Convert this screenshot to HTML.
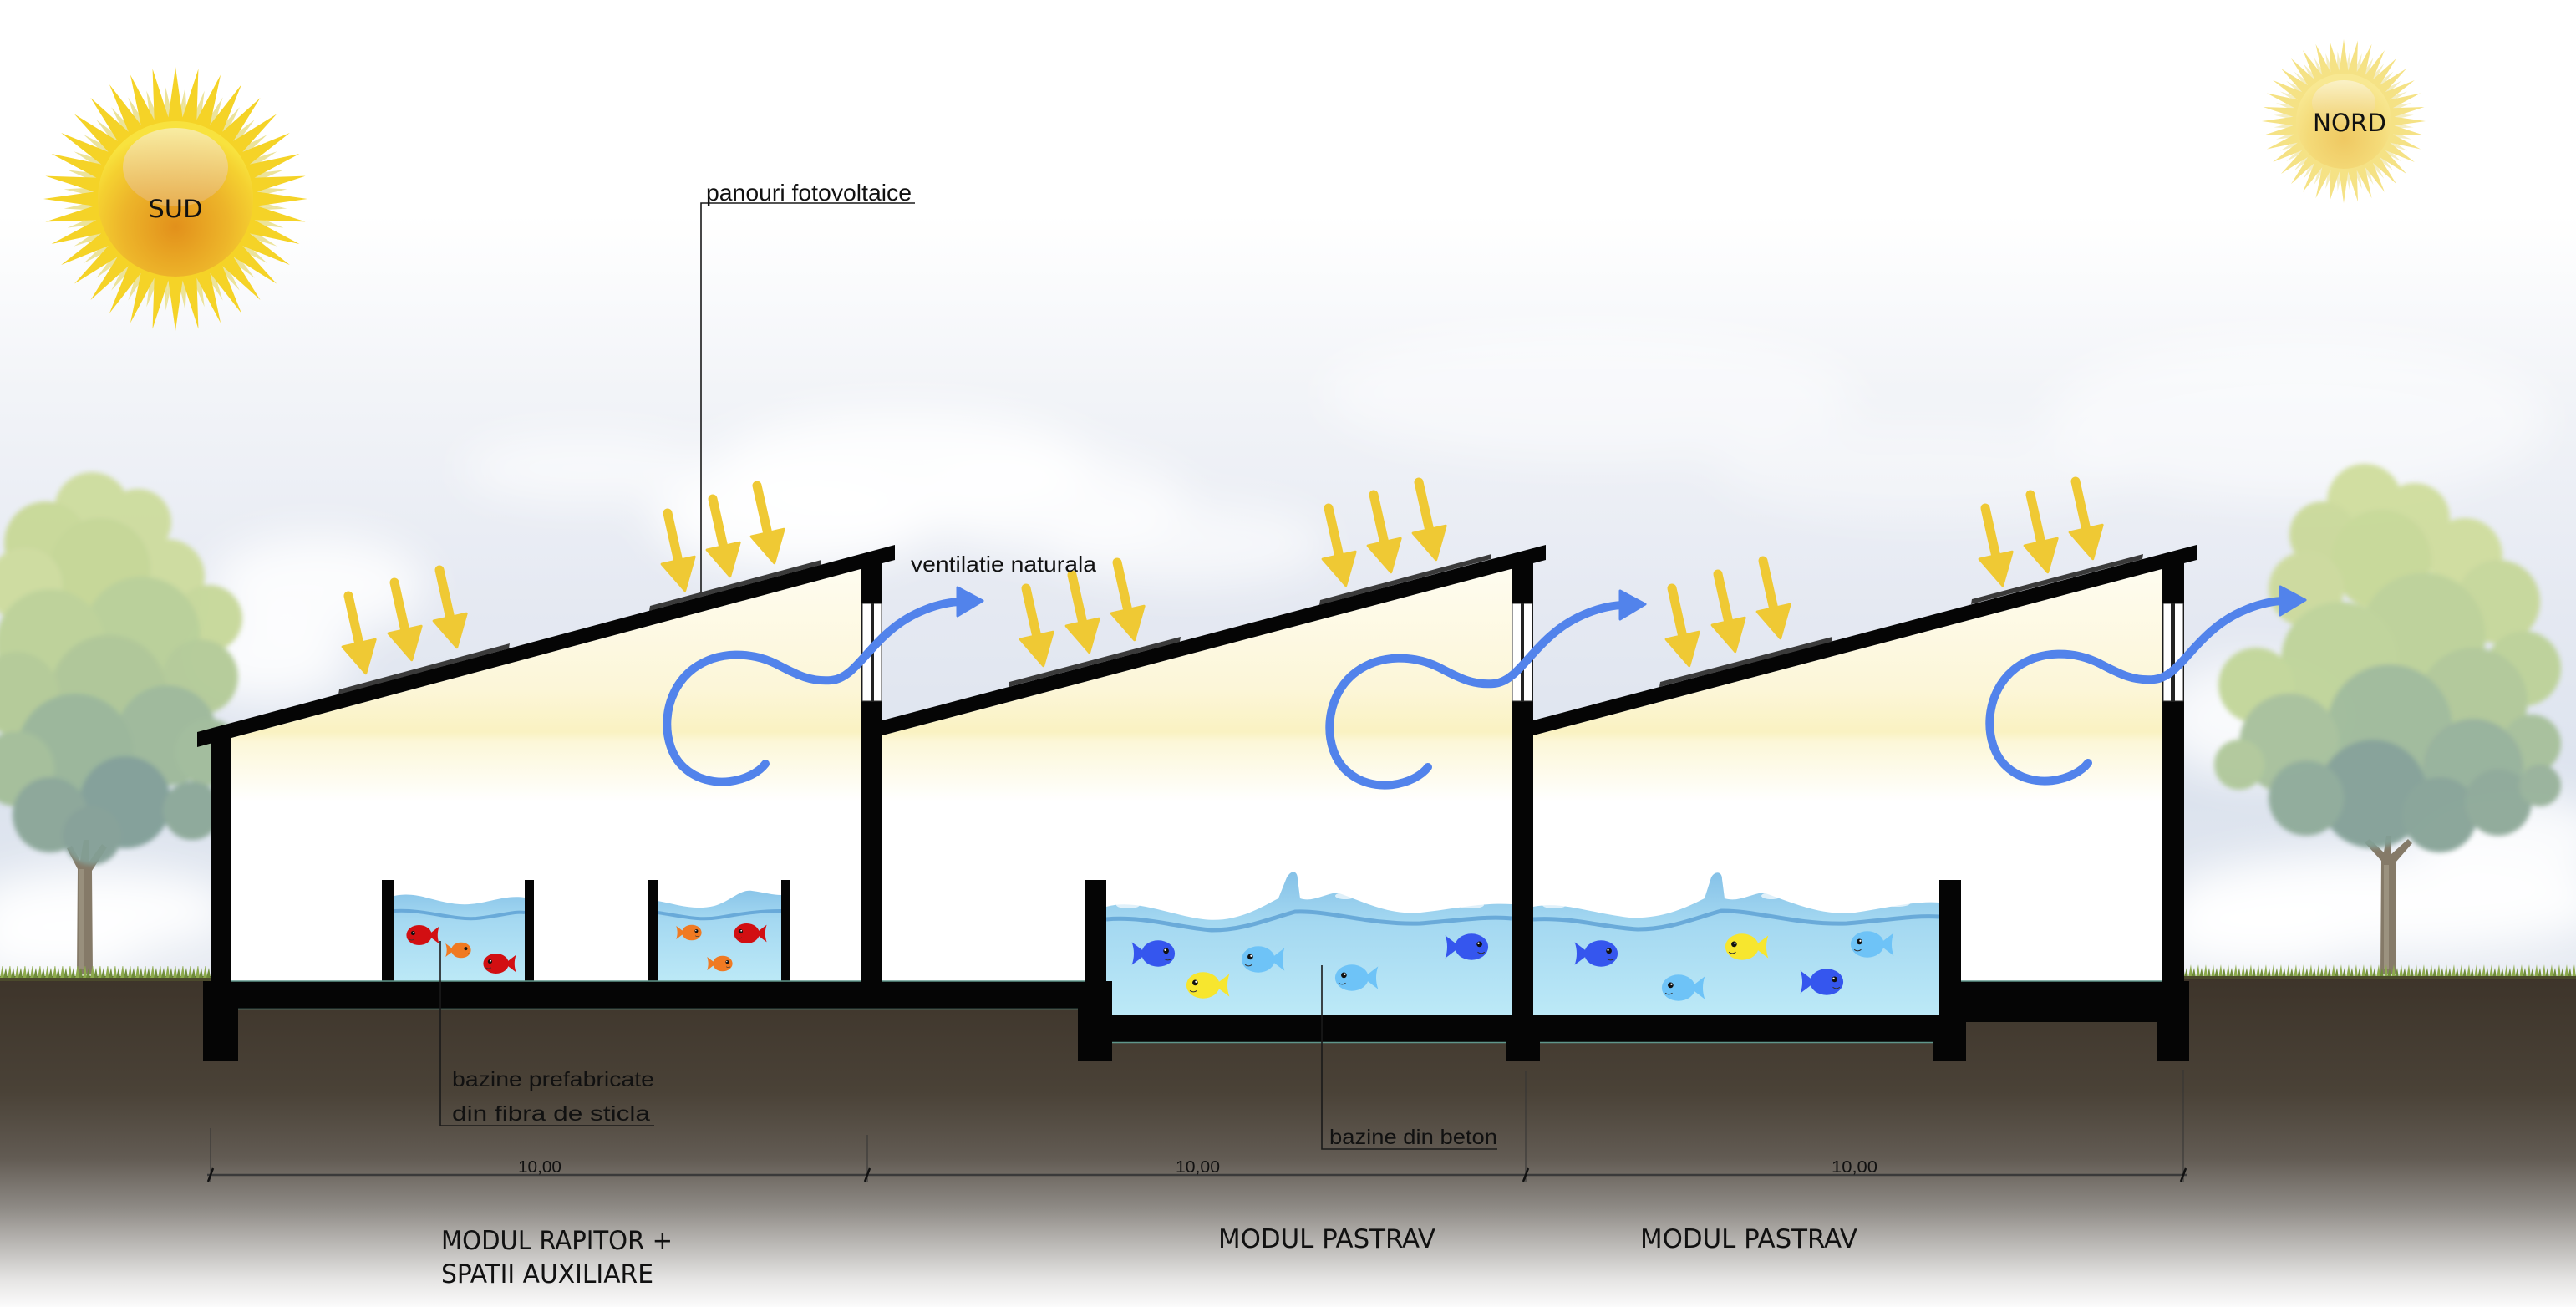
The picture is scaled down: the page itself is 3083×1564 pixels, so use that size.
<!DOCTYPE html>
<html>
<head>
<meta charset="utf-8">
<style>
html,body{margin:0;padding:0;background:#fff;overflow:hidden;}
svg{display:block;}
.lbl{font-family:"Liberation Sans","DejaVu Sans",sans-serif;fill:#111;}
.cap{font-family:"DejaVu Sans Condensed","Liberation Sans",sans-serif;fill:#111;}
</style>
</head>
<body>
<svg xmlns="http://www.w3.org/2000/svg" xmlns:xlink="http://www.w3.org/1999/xlink" width="3083" height="1564" viewBox="0 0 3083 1564">
<defs>
  <linearGradient id="sky" x1="0" y1="0" x2="0" y2="1170" gradientUnits="userSpaceOnUse">
    <stop offset="0" stop-color="#ffffff"/>
    <stop offset="0.22" stop-color="#ffffff"/>
    <stop offset="0.4" stop-color="#f2f4f8"/>
    <stop offset="0.62" stop-color="#e5e9f2"/>
    <stop offset="0.82" stop-color="#dce3ee"/>
    <stop offset="1" stop-color="#e8ecf3"/>
  </linearGradient>
  <linearGradient id="soil" x1="0" y1="1168" x2="0" y2="1564" gradientUnits="userSpaceOnUse">
    <stop offset="0" stop-color="#3d342a"/>
    <stop offset="0.35" stop-color="#4a4237"/>
    <stop offset="0.55" stop-color="#625b53"/>
    <stop offset="0.7" stop-color="#8e8a85"/>
    <stop offset="0.82" stop-color="#bebcb9"/>
    <stop offset="0.92" stop-color="#e6e5e4"/>
    <stop offset="1" stop-color="#fbfbfb"/>
  </linearGradient>
  <linearGradient id="glow" x1="0" y1="660" x2="0" y2="960" gradientUnits="userSpaceOnUse">
    <stop offset="0" stop-color="#fffdf3"/>
    <stop offset="0.55" stop-color="#fcf6d8"/>
    <stop offset="0.72" stop-color="#faf2c2"/>
    <stop offset="0.76" stop-color="#fcf7d8"/>
    <stop offset="1" stop-color="#ffffff"/>
  </linearGradient>
  <linearGradient id="water" x1="0" y1="1045" x2="0" y2="1214" gradientUnits="userSpaceOnUse">
    <stop offset="0" stop-color="#86c2e8"/>
    <stop offset="0.35" stop-color="#a4d8f1"/>
    <stop offset="1" stop-color="#bce9f7"/>
  </linearGradient>
  <linearGradient id="twater" x1="0" y1="1060" x2="0" y2="1175" gradientUnits="userSpaceOnUse">
    <stop offset="0" stop-color="#86c2e8"/>
    <stop offset="0.35" stop-color="#a4d8f1"/>
    <stop offset="1" stop-color="#bce9f7"/>
  </linearGradient>
  <radialGradient id="sunG" cx="0.5" cy="0.68" r="0.62">
    <stop offset="0" stop-color="#e2901b"/>
    <stop offset="0.55" stop-color="#edb52a"/>
    <stop offset="0.85" stop-color="#f5d131"/>
    <stop offset="1" stop-color="#f8e23e"/>
  </radialGradient>
  <linearGradient id="sunH" x1="0" y1="0" x2="0" y2="1">
    <stop offset="0" stop-color="#f8eeb4"/>
    <stop offset="1" stop-color="#e8b25a"/>
  </linearGradient>
  <radialGradient id="sunN" cx="0.5" cy="0.68" r="0.62">
    <stop offset="0" stop-color="#efc862"/>
    <stop offset="0.6" stop-color="#f4da78"/>
    <stop offset="1" stop-color="#f8e892"/>
  </radialGradient>
  <linearGradient id="sunNH" x1="0" y1="0" x2="0" y2="1">
    <stop offset="0" stop-color="#fbf4d4"/>
    <stop offset="1" stop-color="#f0d070"/>
  </linearGradient>
  <filter id="cloud" x="-50%" y="-50%" width="200%" height="200%"><feGaussianBlur stdDeviation="26"/></filter>
  <filter id="soft" x="-10%" y="-10%" width="120%" height="120%"><feGaussianBlur stdDeviation="3"/></filter>
  <pattern id="grass" x="0" y="0" width="9" height="18" patternUnits="userSpaceOnUse">
    <rect width="9" height="18" fill="none"/>
    <polygon points="0,18 3,2 5,18" fill="#8daa4c"/>
    <polygon points="4,18 7,6 9,18" fill="#6f8c3a"/>
  </pattern>
  <path id="q" d="M0,0 L1,0 L.6176,.0541 L.9848,.1736 L.5989,.1605 L.9397,.342 L.5619,.262 L.866,.5 L.5079,.3556 L.766,.6428 L.4384,.4384 L.6428,.766 L.3556,.5079 L.5,.866 L.262,.5619 L.342,.9397 L.1605,.5989 L.1736,.9848 L.0541,.6176 L0,1 Z"/>
  <g id="star">
    <use href="#q"/>
    <use href="#q" transform="rotate(90)"/>
    <use href="#q" transform="rotate(180)"/>
    <use href="#q" transform="rotate(270)"/>
  </g>
  <g id="fishBody"><ellipse cx="-3" cy="0" rx="19" ry="15"/><path d="M10,0 L27,-13 C24,-4 24,4 27,13 Z"/></g>
  <g id="fishFace"><circle cx="-12" cy="-3" r="3.2" fill="#111"/><circle cx="-11" cy="-4" r="1.1" fill="#fff"/><path d="M-18,6 q4,3 8,0" stroke="#333" stroke-width="1" fill="none"/></g>
  <g id="ya">
    <line x1="0" y1="0" x2="0" y2="62" stroke="#efc934" stroke-width="11" stroke-linecap="round"/>
    <path d="M-20,58 L20,58 L0,95 Z" fill="#efc934" stroke="#efc934" stroke-width="3" stroke-linejoin="round"/>
  </g>
  <g id="circ">
    <path d="M916,914 C900,935 850,948 818,918 C790,892 790,830 830,800 C860,778 900,780 930,795 C955,808 970,816 995,814 C1020,812 1035,780 1065,755 C1090,733 1125,720 1152,720" fill="none" stroke="#5283eb" stroke-width="10" stroke-linecap="round"/>
    <polygon points="1146,703 1176,719 1146,737" fill="#5283eb" stroke="#5283eb" stroke-width="3" stroke-linejoin="round"/>
  </g>
</defs>

<!-- SKY -->
<rect x="0" y="0" width="3083" height="1175" fill="url(#sky)"/>
<g filter="url(#cloud)" fill="#ffffff">
  <ellipse cx="1080" cy="560" rx="230" ry="70" opacity="0.85"/>
  <ellipse cx="950" cy="620" rx="170" ry="60" opacity="0.9"/>
  <ellipse cx="1260" cy="600" rx="160" ry="60" opacity="0.7"/>
  <ellipse cx="700" cy="560" rx="150" ry="40" opacity="0.6"/>
  <ellipse cx="380" cy="700" rx="130" ry="60" opacity="0.85"/>
  <ellipse cx="320" cy="790" rx="100" ry="50" opacity="0.85"/>
  <ellipse cx="1420" cy="650" rx="170" ry="50" opacity="0.6"/>
  <ellipse cx="2860" cy="1080" rx="270" ry="60" opacity="0.95"/>
  <ellipse cx="2700" cy="1120" rx="130" ry="40" opacity="0.95"/>
  <ellipse cx="3010" cy="1000" rx="120" ry="50" opacity="0.85"/>
  <ellipse cx="120" cy="1090" rx="160" ry="50" opacity="0.95"/>
  <ellipse cx="60" cy="1140" rx="110" ry="30" opacity="0.95"/>
  <ellipse cx="2750" cy="500" rx="300" ry="100" opacity="0.5"/>
  <ellipse cx="1900" cy="470" rx="320" ry="80" opacity="0.45"/>
  <ellipse cx="2300" cy="560" rx="250" ry="60" opacity="0.35"/>
  <ellipse cx="2700" cy="860" rx="120" ry="70" opacity="0.8"/>
</g>

<!-- SUD sun -->
<g transform="translate(210,238)">
  <use href="#star" transform="rotate(5) scale(134)" fill="#ece39a"/>
  <use href="#star" transform="scale(158)" fill="#f5d327"/>
  <circle r="93" fill="url(#sunG)"/>
  <ellipse cx="0" cy="-38" rx="63" ry="47" fill="url(#sunH)" opacity="0.85"/>
  <text x="0" y="22" text-anchor="middle" class="cap" font-size="29" textLength="65" lengthAdjust="spacingAndGlyphs">SUD</text>
</g>

<!-- NORD sun -->
<g transform="translate(2805,145)">
  <use href="#star" transform="rotate(5) scale(84)" fill="#f4edc0"/>
  <use href="#star" transform="scale(98)" fill="#f5e285"/>
  <circle r="57" fill="url(#sunN)"/>
  <ellipse cx="0" cy="-22" rx="38" ry="27" fill="url(#sunNH)" opacity="0.8"/>
  <text x="7" y="12" text-anchor="middle" class="cap" font-size="29" textLength="88" lengthAdjust="spacingAndGlyphs">NORD</text>
</g>

<!-- TREES -->
<g>
  <path d="M92,1165 L93,1040 L80,1015 L86,1012 L96,1030 L100,1005 L106,1005 L106,1032 L122,1010 L128,1014 L110,1042 L111,1165 Z" fill="#857a68"/>
  <rect x="95" y="1040" width="6" height="120" fill="#a59c8a" opacity="0.6"/>
  <g filter="url(#soft)" opacity="0.95">
    <circle cx="110" cy="610" r="45" fill="#cddc9c"/>
    <circle cx="165" cy="625" r="40" fill="#cddc9c"/>
    <circle cx="55" cy="650" r="50" fill="#c8d896"/>
    <circle cx="200" cy="690" r="45" fill="#cddc9c"/>
    <circle cx="120" cy="680" r="60" fill="#c4d694"/>
    <circle cx="30" cy="700" r="45" fill="#cddc9c"/>
    <circle cx="250" cy="740" r="40" fill="#c6d798"/>
    <circle cx="170" cy="760" r="70" fill="#b8cf96"/>
    <circle cx="60" cy="770" r="65" fill="#bcd196"/>
    <circle cx="240" cy="810" r="45" fill="#b3ca96"/>
    <circle cx="130" cy="830" r="70" fill="#adc695"/>
    <circle cx="20" cy="830" r="50" fill="#b3ca95"/>
    <circle cx="200" cy="880" r="60" fill="#9cb898"/>
    <circle cx="90" cy="900" r="70" fill="#98b597"/>
    <circle cx="250" cy="900" r="40" fill="#a0bb99"/>
    <circle cx="20" cy="920" r="45" fill="#a3bd97"/>
    <circle cx="150" cy="960" r="55" fill="#809e96"/>
    <circle cx="60" cy="975" r="45" fill="#89a596"/>
    <circle cx="230" cy="970" r="35" fill="#8ba797"/>
    <circle cx="110" cy="1000" r="35" fill="#839f95"/>
  </g>
</g>
<g>
  <path d="M2849,1165 L2850,1030 L2830,1008 L2836,1004 L2853,1020 L2856,1000 L2862,1000 L2862,1022 L2882,1004 L2887,1009 L2867,1032 L2868,1165 Z" fill="#857a68"/>
  <rect x="2853" y="1035" width="6" height="125" fill="#aaa290" opacity="0.6"/>
  <g filter="url(#soft)" opacity="0.95">
    <circle cx="2830" cy="600" r="45" fill="#cfdd9c"/>
    <circle cx="2890" cy="620" r="42" fill="#cfdd9c"/>
    <circle cx="2780" cy="640" r="40" fill="#cad999"/>
    <circle cx="2950" cy="665" r="45" fill="#cfdd9c"/>
    <circle cx="2850" cy="670" r="60" fill="#c7d896"/>
    <circle cx="2760" cy="705" r="45" fill="#ccda9b"/>
    <circle cx="2990" cy="720" r="50" fill="#c6d799"/>
    <circle cx="2900" cy="760" r="75" fill="#bcd197"/>
    <circle cx="2800" cy="790" r="70" fill="#bed398"/>
    <circle cx="2700" cy="820" r="45" fill="#c1d598"/>
    <circle cx="3020" cy="800" r="45" fill="#bcd197"/>
    <circle cx="2960" cy="840" r="65" fill="#b0c897"/>
    <circle cx="2860" cy="870" r="75" fill="#9fba99"/>
    <circle cx="2740" cy="890" r="60" fill="#a6bf9a"/>
    <circle cx="2680" cy="915" r="30" fill="#afc799"/>
    <circle cx="3030" cy="890" r="35" fill="#a6bf99"/>
    <circle cx="2960" cy="920" r="60" fill="#95b199"/>
    <circle cx="2840" cy="950" r="65" fill="#83a096"/>
    <circle cx="2760" cy="955" r="45" fill="#8eaa98"/>
    <circle cx="2920" cy="975" r="45" fill="#86a396"/>
    <circle cx="2990" cy="960" r="40" fill="#8da897"/>
    <circle cx="3040" cy="940" r="25" fill="#97b199"/>
  </g>
</g>

<!-- SOIL + GRASS -->
<rect x="0" y="1168" width="3083" height="396" fill="url(#soil)"/>
<rect x="0" y="1156" width="252" height="18" fill="url(#grass)"/>
<rect x="2614" y="1152" width="469" height="20" fill="url(#grass)"/>
<rect x="0" y="1170" width="252" height="4" fill="#4b4a2c"/>
<rect x="2614" y="1168" width="469" height="4" fill="#4b4a2c"/>

<!-- INTERIORS -->
<polygon points="277,883 1031,680.7 1031,1175 277,1175" fill="#ffffff"/>
<polygon points="277,883 1031,680.7 1031,1175 277,1175" fill="url(#glow)"/>
<polygon points="1056,880 1809,680.8 1809,1214 1324,1214 1324,1175 1056,1175" fill="#ffffff"/>
<polygon points="1056,880 1809,680.8 1809,1214 1324,1214 1324,1175 1056,1175" fill="url(#glow)"/>
<polygon points="1835,880 2588,680.8 2588,1175 2347,1175 2347,1214 1835,1214" fill="#ffffff"/>
<polygon points="1835,880 2588,680.8 2588,1175 2347,1175 2347,1214 1835,1214" fill="url(#glow)"/>

<!-- WATER: basins -->
<path d="M1324,1085 C1360,1075 1400,1095 1440,1100 C1480,1105 1510,1085 1530,1075 L1540,1050 C1545,1041 1553,1041 1553,1052 L1556,1075 C1570,1080 1585,1070 1600,1068 C1630,1078 1660,1095 1700,1092 C1740,1088 1770,1080 1809,1082 L1809,1214 L1324,1214 Z" fill="url(#water)"/>
<path d="M1324,1100 C1370,1096 1410,1110 1450,1113 C1490,1113 1520,1099 1550,1091 C1590,1089 1640,1107 1700,1105 C1750,1101 1780,1096 1809,1099" fill="none" stroke="#5b9fd3" stroke-width="5" opacity="0.8"/>
<path d="M1835,1085 C1870,1078 1900,1092 1950,1098 C1990,1100 2020,1085 2040,1075 L2048,1050 C2052,1042 2061,1042 2061,1052 L2064,1075 C2080,1080 2095,1070 2110,1068 C2140,1078 2180,1097 2220,1092 C2260,1086 2290,1078 2321,1080 L2321,1214 L1835,1214 Z" fill="url(#water)"/>
<path d="M1835,1100 C1880,1097 1920,1110 1960,1112 C2000,1112 2030,1098 2060,1090 C2100,1089 2150,1107 2210,1105 C2260,1101 2290,1095 2321,1097" fill="none" stroke="#5b9fd3" stroke-width="5" opacity="0.8"/>
<g fill="#ffffff" opacity="0.7">
  <ellipse cx="1350" cy="1083" rx="14" ry="4"/><ellipse cx="1610" cy="1072" rx="12" ry="4"/><ellipse cx="1760" cy="1083" rx="16" ry="4"/>
  <ellipse cx="1860" cy="1083" rx="14" ry="4"/><ellipse cx="2120" cy="1072" rx="12" ry="4"/><ellipse cx="2270" cy="1081" rx="16" ry="4"/>
</g>

<!-- WATER: tanks -->
<path d="M472,1072 C500,1066 520,1080 550,1082 C580,1084 600,1070 628,1074 L628,1175 L472,1175 Z" fill="url(#twater)"/>
<path d="M472,1090 C510,1088 540,1101 570,1099 C600,1096 615,1090 628,1092" fill="none" stroke="#5b9fd3" stroke-width="4" opacity="0.8"/>
<path d="M787,1078 C810,1082 830,1090 855,1084 C875,1078 885,1064 900,1066 C915,1068 925,1071 935,1071 L935,1175 L787,1175 Z" fill="url(#twater)"/>
<path d="M787,1092 C815,1096 835,1102 860,1098 C885,1094 905,1090 935,1090" fill="none" stroke="#5b9fd3" stroke-width="4" opacity="0.8"/>

<!-- FISH -->
<g transform="translate(504,1119) scale(0.8)" fill="#d20f12"><use href="#fishBody"/><use href="#fishFace"/></g>
<g transform="translate(550,1137) scale(-0.62,0.62)" fill="#f07a22"><use href="#fishBody"/><use href="#fishFace"/></g>
<g transform="translate(596,1153) scale(0.8)" fill="#d20f12"><use href="#fishBody"/><use href="#fishFace"/></g>
<g transform="translate(826,1116) scale(-0.62,0.62)" fill="#f07a22"><use href="#fishBody"/><use href="#fishFace"/></g>
<g transform="translate(896,1117) scale(0.8)" fill="#d20f12"><use href="#fishBody"/><use href="#fishFace"/></g>
<g transform="translate(863,1153) scale(-0.62,0.62)" fill="#f07a22"><use href="#fishBody"/><use href="#fishFace"/></g>

<g transform="translate(1383,1141) scale(-1.05,1.05)" fill="#3556ee"><use href="#fishBody"/><use href="#fishFace"/></g>
<g transform="translate(1509,1148) scale(1.05)" fill="#6ec3f7"><use href="#fishBody"/><use href="#fishFace"/></g>
<g transform="translate(1443,1179) scale(1.05)" fill="#f7e62e"><use href="#fishBody"/><use href="#fishFace"/></g>
<g transform="translate(1621,1170) scale(1.05)" fill="#6ec3f7"><use href="#fishBody"/><use href="#fishFace"/></g>
<g transform="translate(1758,1133) scale(-1.05,1.05)" fill="#3556ee"><use href="#fishBody"/><use href="#fishFace"/></g>

<g transform="translate(1913,1141) scale(-1.05,1.05)" fill="#3556ee"><use href="#fishBody"/><use href="#fishFace"/></g>
<g transform="translate(2088,1133) scale(1.05)" fill="#f7e62e"><use href="#fishBody"/><use href="#fishFace"/></g>
<g transform="translate(2238,1130) scale(1.05)" fill="#6ec3f7"><use href="#fishBody"/><use href="#fishFace"/></g>
<g transform="translate(2012,1182) scale(1.05)" fill="#6ec3f7"><use href="#fishBody"/><use href="#fishFace"/></g>
<g transform="translate(2183,1175) scale(-1.05,1.05)" fill="#3556ee"><use href="#fishBody"/><use href="#fishFace"/></g>

<!-- STRUCTURE (black) -->
<g fill="#050505">
  <polygon points="236,876 1071,652 1071,670 236,894"/>
  <polygon points="1056,862 1850,652 1850,670 1056,880"/>
  <polygon points="1835,862 2629,652 2629,670 1835,880"/>
  <rect x="252" y="880" width="25" height="295"/>
  <rect x="1031" y="665" width="25" height="510"/>
  <rect x="1809" y="665" width="26" height="549"/>
  <rect x="2588" y="665" width="26" height="558"/>
  <rect x="252" y="1174" width="1046" height="33"/>
  <rect x="243" y="1174" width="42" height="96"/>
  <rect x="1298" y="1053" width="26" height="161"/>
  <rect x="1290" y="1174" width="41" height="96"/>
  <rect x="1298" y="1214" width="1049" height="33"/>
  <rect x="1802" y="1214" width="41" height="56"/>
  <rect x="2321" y="1053" width="26" height="161"/>
  <rect x="2313" y="1214" width="40" height="56"/>
  <rect x="2347" y="1174" width="267" height="49"/>
  <rect x="2582" y="1174" width="38" height="96"/>
  <rect x="457" y="1053" width="15" height="122"/>
  <rect x="628" y="1053" width="11" height="122"/>
  <rect x="776" y="1053" width="11" height="122"/>
  <rect x="935" y="1053" width="10" height="122"/>
</g>
<g stroke="#5f958a" stroke-width="1.5">
  <line x1="277" y1="1174" x2="1031" y2="1174"/>
  <line x1="1056" y1="1174" x2="1298" y2="1174"/>
  <line x1="2347" y1="1174" x2="2588" y2="1174"/>
  <line x1="285" y1="1207.5" x2="1290" y2="1207.5"/>
  <line x1="1331" y1="1247.5" x2="1802" y2="1247.5"/>
  <line x1="1843" y1="1247.5" x2="2313" y2="1247.5"/>
</g>

<!-- solar panels -->
<g fill="#3a3a3a">
  <polygon points="405,831 609,776 610,770 406,825"/>
  <polygon points="777,731 982,676 983,670 778,725"/>
  <polygon points="1207,822 1412,768 1413,762 1208,816"/>
  <polygon points="1579,724 1784,669 1785,663 1580,718"/>
  <polygon points="1986,822 2192,768 2193,762 1987,816"/>
  <polygon points="2359,723 2564,669 2565,663 2360,717"/>
</g>

<!-- windows -->
<g>
  <rect x="1032" y="722" width="23" height="117" fill="#ffffff" stroke="#333" stroke-width="1"/>
  <rect x="1042" y="722" width="4" height="117" fill="#222"/>
  <rect x="1810" y="722" width="24" height="117" fill="#ffffff" stroke="#333" stroke-width="1"/>
  <rect x="1820" y="722" width="4" height="117" fill="#222"/>
  <rect x="2589" y="722" width="24" height="117" fill="#ffffff" stroke="#333" stroke-width="1"/>
  <rect x="2598" y="722" width="5" height="117" fill="#222"/>
</g>

<!-- yellow sun arrows -->
<g>
  <use href="#ya" transform="translate(417,713) rotate(-12.6)"/>
  <use href="#ya" transform="translate(472,697) rotate(-12.6)"/>
  <use href="#ya" transform="translate(526,682) rotate(-12.6)"/>
  <use href="#ya" transform="translate(799,614) rotate(-12.6)"/>
  <use href="#ya" transform="translate(853,597) rotate(-12.6)"/>
  <use href="#ya" transform="translate(906,581) rotate(-12.6)"/>
  <use href="#ya" transform="translate(1228,704) rotate(-12.6)"/>
  <use href="#ya" transform="translate(1283,688) rotate(-12.6)"/>
  <use href="#ya" transform="translate(1337,673) rotate(-12.6)"/>
  <use href="#ya" transform="translate(1590,608) rotate(-12.6)"/>
  <use href="#ya" transform="translate(1644,592) rotate(-12.6)"/>
  <use href="#ya" transform="translate(1698,577) rotate(-12.6)"/>
  <use href="#ya" transform="translate(2001,704) rotate(-12.6)"/>
  <use href="#ya" transform="translate(2056,687) rotate(-12.6)"/>
  <use href="#ya" transform="translate(2110,671) rotate(-12.6)"/>
  <use href="#ya" transform="translate(2376,608) rotate(-12.6)"/>
  <use href="#ya" transform="translate(2430,592) rotate(-12.6)"/>
  <use href="#ya" transform="translate(2484,576) rotate(-12.6)"/>
</g>

<!-- blue ventilation curves -->
<use href="#circ"/>
<use href="#circ" transform="translate(793,4)"/>
<use href="#circ" transform="translate(1583,-1)"/>

<!-- LEADER LINES -->
<g stroke="#1a1a1a" stroke-width="1.6" fill="none">
  <polyline points="839,708 839,243 1095,243"/>
  <polyline points="527,1126 527,1347 783,1347"/>
  <polyline points="1582,1155 1582,1375 1792,1375"/>
</g>

<!-- DIMENSION LINE -->
<g stroke="#333" fill="none">
  <line x1="248" y1="1406" x2="2617" y2="1406" stroke-width="2.5" stroke="#3a3a3a"/>
  <line x1="252" y1="1350" x2="252" y2="1414" stroke-width="1"/>
  <line x1="1038" y1="1358" x2="1038" y2="1414" stroke-width="1"/>
  <line x1="1826" y1="1282" x2="1826" y2="1414" stroke-width="1"/>
  <line x1="2613" y1="1280" x2="2613" y2="1414" stroke-width="1"/>
  <g stroke-width="2.5" stroke="#111">
    <line x1="249" y1="1414" x2="255" y2="1398"/>
    <line x1="1035" y1="1414" x2="1041" y2="1398"/>
    <line x1="1823" y1="1414" x2="1829" y2="1398"/>
    <line x1="2610" y1="1414" x2="2616" y2="1398"/>
  </g>
</g>

<!-- TEXT -->
<text x="845" y="240" class="lbl" font-size="28" textLength="246" lengthAdjust="spacingAndGlyphs">panouri fotovoltaice</text>
<text x="1090" y="684" class="lbl" font-size="26" textLength="222" lengthAdjust="spacingAndGlyphs">ventilatie naturala</text>
<text x="541" y="1300" class="lbl" font-size="25" textLength="242" lengthAdjust="spacingAndGlyphs">bazine prefabricate</text>
<text x="541" y="1341" class="lbl" font-size="25" textLength="237" lengthAdjust="spacingAndGlyphs">din fibra de sticla</text>
<text x="1591" y="1369" class="lbl" font-size="25" textLength="201" lengthAdjust="spacingAndGlyphs">bazine din beton</text>
<text x="620" y="1403" class="lbl" font-size="20" textLength="52" lengthAdjust="spacingAndGlyphs">10,00</text>
<text x="1407" y="1403" class="lbl" font-size="20" textLength="53" lengthAdjust="spacingAndGlyphs">10,00</text>
<text x="2192" y="1403" class="lbl" font-size="20" textLength="55" lengthAdjust="spacingAndGlyphs">10,00</text>
<text x="528" y="1495" class="cap" font-size="31" textLength="277" lengthAdjust="spacingAndGlyphs">MODUL RAPITOR +</text>
<text x="528" y="1535" class="cap" font-size="31" textLength="254" lengthAdjust="spacingAndGlyphs">SPATII AUXILIARE</text>
<text x="1458" y="1493" class="cap" font-size="31" textLength="260" lengthAdjust="spacingAndGlyphs">MODUL PASTRAV</text>
<text x="1963" y="1493" class="cap" font-size="31" textLength="260" lengthAdjust="spacingAndGlyphs">MODUL PASTRAV</text>
</svg>
</body>
</html>
